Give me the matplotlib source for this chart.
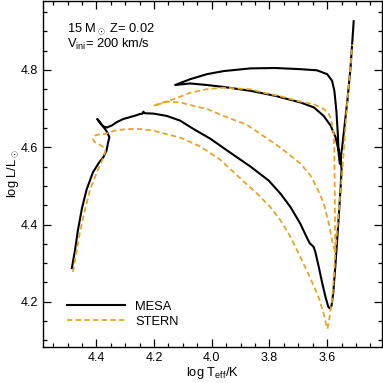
import numpy as np
import matplotlib
matplotlib.use("Agg")
import matplotlib.pyplot as plt
from matplotlib.ticker import MultipleLocator

plt.rcParams['font.family'] = ['Liberation Sans', 'DejaVu Sans']
plt.rcParams['mathtext.fontset'] = 'custom'
plt.rcParams['mathtext.rm'] = 'Liberation Sans'
plt.rcParams['mathtext.it'] = 'Liberation Sans:italic'

# MESA track (log Teff, log L)
mesa_logT = [4.485, 4.474, 4.464, 4.450, 4.434, 4.412, 4.391, 4.376, 4.365, 4.359,
             4.355, 4.362, 4.370, 4.390, 4.397, 4.388, 4.377, 4.364, 4.347, 4.329,
             4.307, 4.283, 4.260, 4.249, 4.240, 4.237, 4.233, 4.202, 4.156, 4.110,
             4.063, 4.005, 3.936, 3.866, 3.803, 3.762, 3.727, 3.693, 3.669, 3.660,
             3.652, 3.647, 3.641, 3.629, 3.617, 3.606, 3.596, 3.591, 3.585, 3.579,
             3.571, 3.563, 3.554, 3.550, 3.552, 3.560, 3.571, 3.588, 3.612, 3.646,
             3.693, 3.780, 3.866, 3.959, 4.017, 4.075, 4.127, 4.075, 4.017, 3.959,
             3.866, 3.780, 3.693, 3.635, 3.600, 3.583, 3.575, 3.568, 3.563, 3.560,
             3.556, 3.548, 3.530, 3.519, 3.508]
mesa_logL = [4.287, 4.334, 4.385, 4.442, 4.490, 4.535, 4.560, 4.574, 4.591, 4.613,
             4.626, 4.638, 4.647, 4.667, 4.673, 4.663, 4.654, 4.651, 4.656, 4.665,
             4.673, 4.678, 4.683, 4.686, 4.687, 4.692, 4.688, 4.687, 4.681, 4.669,
             4.647, 4.622, 4.586, 4.550, 4.514, 4.480, 4.445, 4.402, 4.364, 4.351,
             4.346, 4.342, 4.329, 4.290, 4.248, 4.213, 4.187, 4.183, 4.189, 4.222,
             4.299, 4.385, 4.488, 4.540, 4.563, 4.591, 4.626, 4.656, 4.681, 4.703,
             4.716, 4.733, 4.746, 4.756, 4.761, 4.765, 4.761, 4.776, 4.789, 4.797,
             4.804, 4.805, 4.802, 4.799, 4.789, 4.772, 4.746, 4.694, 4.634, 4.583,
             4.557, 4.600, 4.720, 4.806, 4.926]

# STERN track (log Teff, log L)
stern_logT = [4.481, 4.471, 4.457, 4.440, 4.422, 4.405, 4.388, 4.376, 4.369, 4.374,
              4.391, 4.407, 4.412, 4.405, 4.388, 4.370, 4.336, 4.295, 4.249, 4.202,
              4.179, 4.110, 4.040, 3.971, 3.905, 3.843, 3.797, 3.762, 3.727, 3.693,
              3.658, 3.629, 3.612, 3.604, 3.599, 3.591, 3.583, 3.576, 3.572, 3.578,
              3.583, 3.594, 3.612, 3.634, 3.658, 3.693, 3.762, 3.878, 3.959, 4.017,
              4.063, 4.110, 4.156, 4.179, 4.202, 4.168, 4.133, 4.075, 4.017, 3.959,
              3.866, 3.820, 3.762, 3.704, 3.646, 3.612, 3.595, 3.587, 3.577, 3.575,
              3.574, 3.573, 3.572, 3.564, 3.556, 3.548, 3.530, 3.519, 3.513]
stern_logL = [4.277, 4.321, 4.380, 4.437, 4.490, 4.522, 4.553, 4.573, 4.589, 4.599,
              4.608, 4.614, 4.622, 4.630, 4.634, 4.634, 4.643, 4.647, 4.647, 4.643,
              4.638, 4.625, 4.602, 4.568, 4.522, 4.480, 4.445, 4.411, 4.368, 4.316,
              4.261, 4.210, 4.169, 4.143, 4.130, 4.163, 4.205, 4.269, 4.328, 4.344,
              4.359, 4.402, 4.455, 4.493, 4.527, 4.558, 4.599, 4.658, 4.681, 4.699,
              4.707, 4.716, 4.718, 4.712, 4.707, 4.716, 4.724, 4.741, 4.750, 4.754,
              4.750, 4.741, 4.732, 4.720, 4.711, 4.699, 4.687, 4.674, 4.634, 4.591,
              4.514, 4.424, 4.328, 4.398, 4.468, 4.532, 4.720, 4.808, 4.866]

orange = '#E2A62A'
fs = 9.3

fig = plt.figure(figsize=(3.83, 3.83), dpi=100)
ax = fig.add_axes([0.1123, 0.094, 0.885, 0.903])

ax.plot(mesa_logT, mesa_logL, color='black', lw=1.5, label='MESA',
        solid_joinstyle='round')
ax.plot(stern_logT, stern_logL, color=orange, lw=1.3, dashes=(3.0, 1.8), label='STERN')

ax.set_xlim(4.585, 3.41)
ax.set_ylim(4.083, 4.978)

ax.xaxis.set_major_locator(MultipleLocator(0.2))
ax.xaxis.set_minor_locator(MultipleLocator(0.05))
ax.yaxis.set_major_locator(MultipleLocator(0.2))
ax.yaxis.set_minor_locator(MultipleLocator(0.05))
ax.tick_params(which='both', direction='in', top=True, right=True, labelsize=9, width=0.9)
ax.tick_params(which='major', length=6)
ax.tick_params(which='minor', length=3)
for s in ax.spines.values():
    s.set_linewidth(1.0)

ax.set_xlabel(r'log T$_{\rm eff}$/K', fontsize=fs, labelpad=1)
ax.set_ylabel(r'log L/L$_\odot$', fontsize=fs, labelpad=0)

ax.text(0.07, 0.91, r'15 M$_\odot$ Z= 0.02', transform=ax.transAxes, fontsize=fs)
ax.text(0.07, 0.866, r'V$_{\rm ini}$= 200 km/s', transform=ax.transAxes, fontsize=fs)

ax.legend(loc='lower left', bbox_to_anchor=(0.056, 0.04), borderaxespad=0,
          handlelength=4.5, handletextpad=0.75, labelspacing=0.25, frameon=False,
          fontsize=fs)

fig.savefig('out.png', dpi=100)
